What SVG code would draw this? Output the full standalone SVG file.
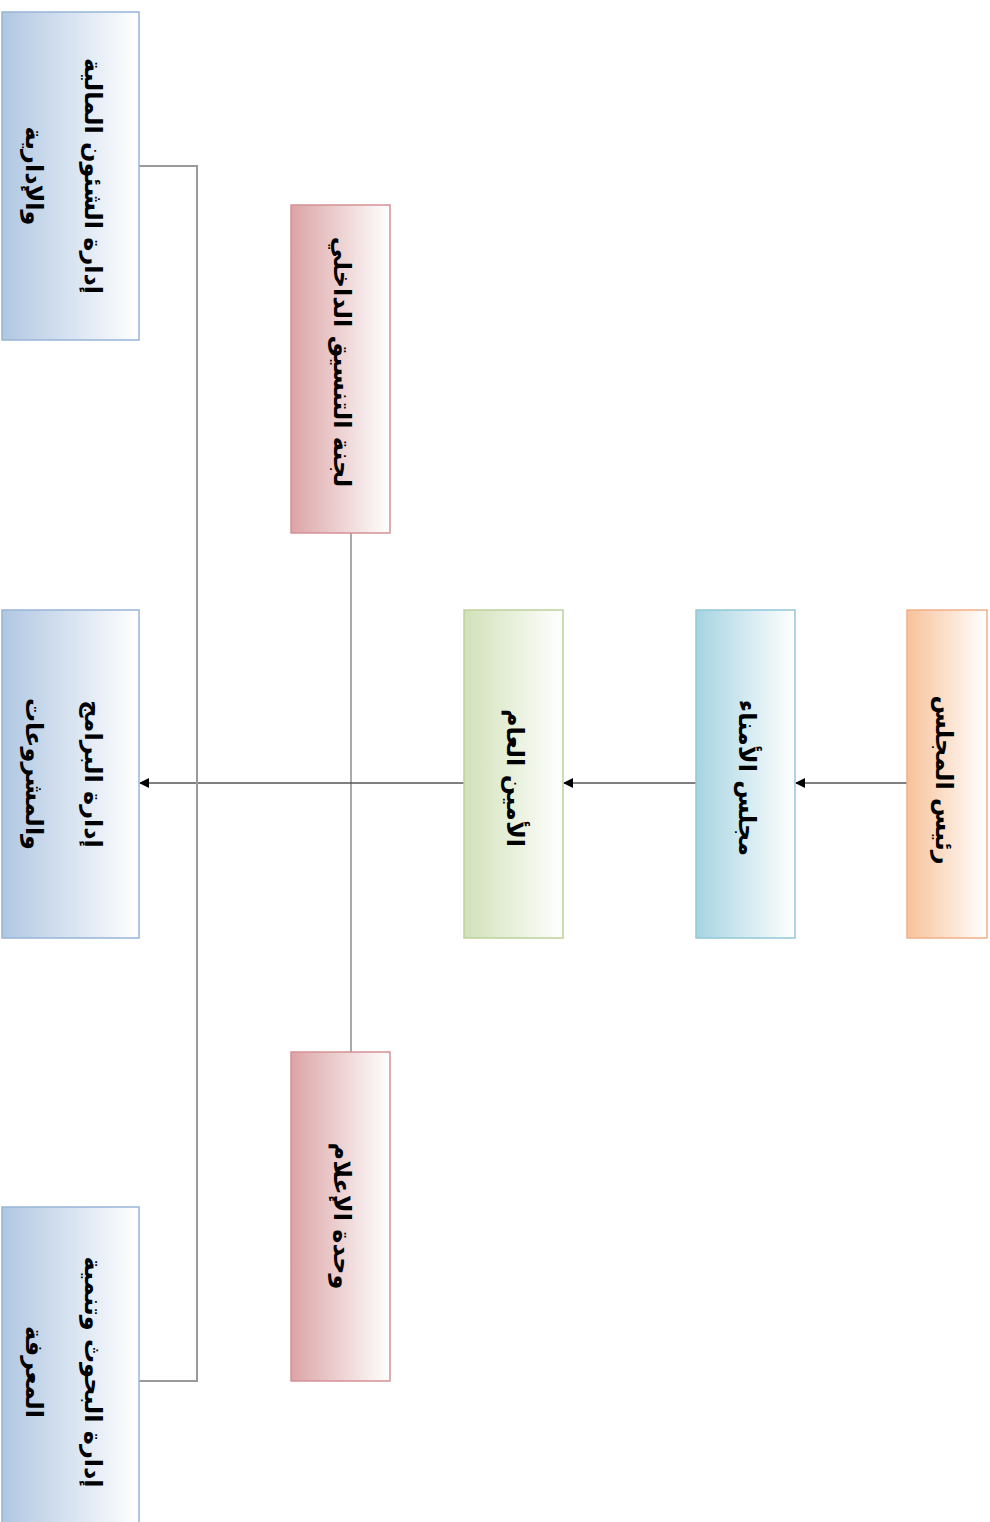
<svg xmlns="http://www.w3.org/2000/svg" width="990" height="1522" viewBox="0 0 990 1522">
  <defs>
    <linearGradient id="gOrange" x1="0" y1="0" x2="1" y2="0">
      <stop offset="0" stop-color="#f8c29a"/>
      <stop offset="1" stop-color="#ffffff"/>
    </linearGradient>
    <linearGradient id="gTeal" x1="0" y1="0" x2="1" y2="0">
      <stop offset="0" stop-color="#a6d4e2"/>
      <stop offset="1" stop-color="#ffffff"/>
    </linearGradient>
    <linearGradient id="gGreen" x1="0" y1="0" x2="1" y2="0">
      <stop offset="0" stop-color="#d1e1b8"/>
      <stop offset="1" stop-color="#ffffff"/>
    </linearGradient>
    <linearGradient id="gRed" x1="0" y1="0" x2="1" y2="0">
      <stop offset="0" stop-color="#dca4a6"/>
      <stop offset="1" stop-color="#ffffff"/>
    </linearGradient>
    <linearGradient id="gBlue" x1="0" y1="0" x2="1" y2="0">
      <stop offset="0" stop-color="#b0c7e2"/>
      <stop offset="1" stop-color="#ffffff"/>
    </linearGradient>
    <marker id="arrow" viewBox="0 0 10 10" refX="9" refY="5" markerWidth="10" markerHeight="10" markerUnits="userSpaceOnUse" orient="auto">
      <path d="M0,0 L10,5 L0,10 z" fill="#000"/>
    </marker>
  </defs>
  <style>
    .box { stroke-width: 1.5; }
    .lbl { font-family: "DejaVu Sans", sans-serif; font-size: 24px; font-weight: bold; fill: #000; text-anchor: middle; dominant-baseline: central; }
    .flow { stroke: #000; stroke-width: 1.2; fill: none; }
    .thin { stroke: #555; stroke-width: 1; fill: none; }
    .bus { stroke: #9a9a9a; stroke-width: 2; fill: none; }
  </style>

  <!-- connectors -->
  <g id="connectors">
    <line class="flow" x1="907" y1="783" x2="796" y2="783" marker-end="url(#arrow)"/>
    <line class="flow" x1="696" y1="783" x2="564" y2="783" marker-end="url(#arrow)"/>
    <line class="flow" x1="464" y1="783" x2="140" y2="783" marker-end="url(#arrow)"/>
    <line class="thin" x1="351" y1="533" x2="351" y2="1052"/>
    <polyline class="bus" points="139,166 197,166 197,1381 139,1381"/>
  </g>

  <!-- nodes -->
  <g id="chairman">
    <rect class="box" x="907" y="610" width="80" height="328" fill="url(#gOrange)" stroke="#f0b08a"/>
    <text class="lbl" transform="translate(944,780) rotate(90)">رئيس المجلس</text>
  </g>
  <g id="board">
    <rect class="box" x="696" y="610" width="99" height="328" fill="url(#gTeal)" stroke="#93c8d8"/>
    <text class="lbl" transform="translate(747,778) rotate(90)">مجلس الأمناء</text>
  </g>
  <g id="secretary-general">
    <rect class="box" x="464" y="610" width="99" height="328" fill="url(#gGreen)" stroke="#bcd19a"/>
    <text class="lbl" transform="translate(515,778) rotate(90)">الأمين العام</text>
  </g>
  <g id="coordination-committee">
    <rect class="box" x="291" y="205" width="99" height="328" fill="url(#gRed)" stroke="#d59195"/>
    <text class="lbl" transform="translate(342,362) rotate(90)">لجنة التنسيق الداخلي</text>
  </g>
  <g id="media-unit">
    <rect class="box" x="291" y="1052" width="99" height="329" fill="url(#gRed)" stroke="#d59195"/>
    <text class="lbl" transform="translate(342,1216) rotate(90)">وحدة الإعلام</text>
  </g>
  <g id="finance-admin">
    <rect class="box" x="2" y="12" width="137" height="328" fill="url(#gBlue)" stroke="#98b5d8"/>
    <text class="lbl" transform="translate(93,176) rotate(90)">إدارة الشئون المالية</text>
    <text class="lbl" transform="translate(34,176) rotate(90)">والإدارية</text>
  </g>
  <g id="programs-projects">
    <rect class="box" x="2" y="610" width="137" height="328" fill="url(#gBlue)" stroke="#98b5d8"/>
    <text class="lbl" transform="translate(93,774) rotate(90)">إدارة البرامج</text>
    <text class="lbl" transform="translate(34,774) rotate(90)">والمشروعات</text>
  </g>
  <g id="research-knowledge">
    <rect class="box" x="2" y="1207" width="137" height="328" fill="url(#gBlue)" stroke="#98b5d8"/>
    <text class="lbl" transform="translate(93,1372) rotate(90)">إدارة البحوث وتنمية</text>
    <text class="lbl" transform="translate(34,1372) rotate(90)">المعرفة</text>
  </g>
</svg>
